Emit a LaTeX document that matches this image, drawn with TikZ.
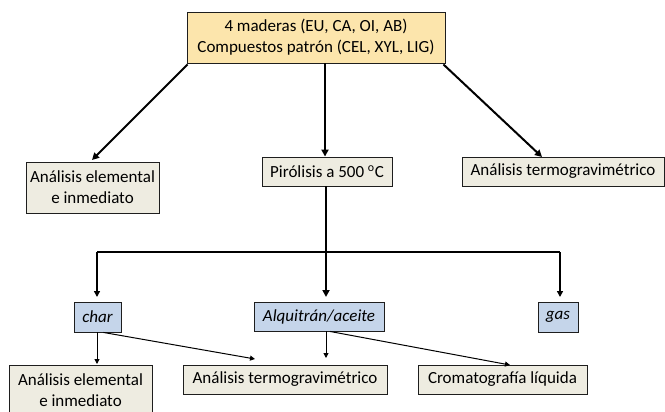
\documentclass[tikz,border=0pt]{standalone}
\usepackage{fontspec}
\setmainfont{Carlito}
\usetikzlibrary{arrows.meta}
\definecolor{topfill}{RGB}{252,229,172}
\definecolor{grayfill}{RGB}{238,236,225}
\definecolor{bluefill}{RGB}{197,213,234}
\definecolor{edge}{RGB}{30,30,30}
\tikzset{
  box/.style={draw=edge, line width=0.9pt, inner sep=0pt, align=center,
    font=\fontsize{17}{21}\selectfont},
  topbox/.style={box, fill=topfill},
  graybox/.style={box, fill=grayfill},
  bluebox/.style={box, fill=bluefill, font=\fontsize{17}{21}\selectfont\itshape},
  thickarr/.style={line width=2pt, -{Triangle[length=7pt,width=7pt]}},
  midarr/.style={line width=1.6pt, -{Triangle[length=6pt,width=6pt]}},
  thinarr/.style={line width=1pt, -{Triangle[length=5pt,width=5pt]}},
}
\begin{document}
\begin{tikzpicture}[x=1pt,y=-1pt]
\useasboundingbox (0,0) rectangle (665,412);
\clip (0,0) rectangle (665,412);
% nodes
\node[topbox, minimum width=258, minimum height=51] (top) at (316,37.5)
  {4 maderas (EU, CA, OI, AB)\\Compuestos patrón (CEL, XYL, LIG)};
\node[graybox, minimum width=133, minimum height=51] (ea1) at (92.5,187.5)
  {Análisis elemental\\e inmediato};
\node[graybox, minimum width=130, minimum height=29] (pir) at (327,171.5)
  {Pirólisis a 500 \textsuperscript{o}C};
\node[graybox, minimum width=202, minimum height=29] (tga1) at (563,171.5)
  {Análisis termogravimétrico};
\node[bluebox, minimum width=47, minimum height=30] (char) at (97.5,317)
  {char};
\node[bluebox, minimum width=130, minimum height=29] (alq) at (319,316.5)
  {Alquitrán/aceite};
\node[bluebox, minimum width=40, minimum height=30] (gas) at (558,317)
  {gas};
\node[graybox, minimum width=143, minimum height=51] (ea2) at (80.5,390.5)
  {Análisis elemental\\e inmediato};
\node[graybox, minimum width=204, minimum height=29] (tga2) at (285,379.5)
  {Análisis termogravimétrico};
\node[graybox, minimum width=169, minimum height=29] (crom) at (502.5,379.5)
  {Cromatografía líquida};
% helper coordinates
\coordinate (split) at (326,252);
\coordinate (splitL) at (97,252);
\coordinate (splitR) at (560,252);
\coordinate (pirTip) at (325,157);
% top level connectors
\draw[thickarr] (top.south west) ++(1,1) -- (92,160);
\draw[thickarr] (top.south -| pirTip) -- (pir.north -| pirTip);
\draw[thickarr] (top.south east) ++(-2,1) -- (542,157);
% pyrolysis split
\draw[line width=2.2pt, -{Triangle[length=7pt,width=7pt]}] (pir.south -| split) -- (326,297);
\draw[line width=1.8pt] (splitL) -- (splitR);
\draw[midarr] (splitL) -- (97,297);
\draw[midarr] (splitR) -- (560,297);
% lower connectors
\draw[thinarr] (char.south -| splitL) -- (97,364);
\draw[thinarr] (char.south east) ++(-18,0) -- (255,359);
\draw[thinarr] (alq.south -| split) -- (326,358);
\draw[thinarr] (alq.south -| 330,0) -- (510,365);
\end{tikzpicture}
\end{document}
